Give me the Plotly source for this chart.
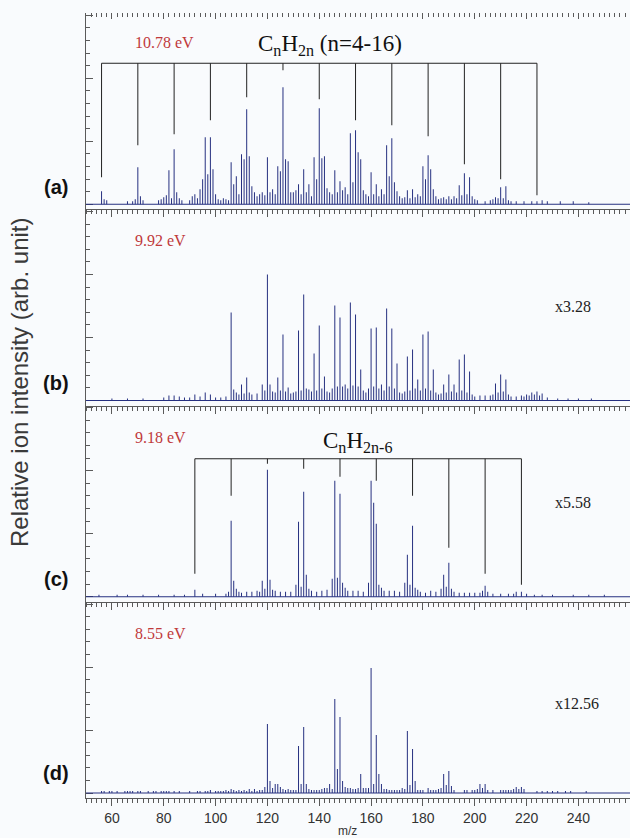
import plotly.graph_objects as go

# ---------------- data (m/z, relative intensity) ----------------
# panel (a) 10.78 eV
a_mz = [56, 57, 68, 70, 71, 80, 81, 82, 84, 85, 92, 94, 95, 96, 97, 98, 99, 100,
        106, 107, 108, 110, 111, 112, 113, 114, 120, 122, 124, 125, 126, 127, 128, 130,
        132, 134, 136, 138, 139, 140, 141, 142, 146, 148, 150, 152, 153, 154, 155, 156,
        160, 162, 164, 166, 167, 168, 169, 170, 174, 176, 178, 180, 181, 182, 183, 184,
        188, 190, 192, 194, 196, 198, 200, 208, 210, 212, 214, 224, 226]
a_int = [13, 5, 3, 37, 8, 7, 9, 34, 55, 12, 10, 15, 25, 67, 30, 67, 35, 10,
         42, 20, 28, 50, 45, 95, 48, 18, 47, 15, 38, 33, 117, 45, 43, 12,
         20, 35, 20, 47, 25, 96, 46, 48, 34, 23, 17, 71, 22, 74, 52, 45,
         32, 20, 15, 59, 28, 66, 22, 13, 14, 15, 10, 38, 25, 49, 35, 15,
         7, 8, 8, 19, 31, 27, 5, 7, 17, 18, 3, 3, 4]
a_small_mz = [58, 66, 69, 72, 78, 79, 83, 86, 87, 90, 91, 93, 101, 102, 103, 104, 105, 109,
              115, 116, 117, 118, 119, 121, 123, 129, 131, 133, 135, 137, 143, 144, 145, 147,
              149, 151, 157, 158, 159, 161, 163, 165, 171, 172, 173, 175, 177, 179, 185, 186,
              187, 189, 191, 193, 195, 197, 199, 201, 204, 206, 207, 209, 211, 213, 216, 219,
              222, 228, 233, 238, 244]
a_small_int = [4, 3, 5, 4, 4, 5, 6, 6, 4, 4, 8, 6, 5, 4, 6, 5, 4, 10,
               12, 8, 10, 12, 9, 12, 10, 12, 14, 10, 12, 8, 16, 12, 10, 12,
               14, 10, 14, 10, 8, 10, 8, 10, 8, 6, 7, 6, 7, 8, 8, 5,
               6, 5, 5, 6, 9, 10, 8, 4, 3, 4, 5, 6, 6, 4, 3, 3,
               3, 3, 3, 3, 2]

# panel (b) 9.92 eV
b_mz = [82, 84, 92, 96, 98, 106, 107, 110, 112, 118, 120, 121, 124, 126, 128, 132, 134, 136,
        138, 140, 142, 146, 148, 150, 152, 154, 156, 160, 162, 164, 166, 168, 170, 174, 176,
        178, 180, 182, 184, 188, 190, 192, 194, 196, 198, 208, 210, 212, 220, 222, 224, 226]
b_int = [5, 5, 6, 8, 6, 88, 11, 16, 23, 16, 126, 16, 23, 66, 13, 70, 106, 11,
         47, 75, 24, 95, 83, 16, 98, 86, 31, 72, 73, 16, 92, 72, 37, 44, 51,
         21, 66, 69, 31, 16, 26, 16, 41, 46, 29, 17, 26, 21, 6, 8, 9, 7]
b_small_mz = [60, 66, 72, 80, 86, 88, 90, 94, 100, 102, 104, 108, 109, 111, 113, 114, 116, 119,
              122, 123, 125, 127, 129, 130, 131, 133, 135, 137, 139, 141, 143, 144, 145, 147,
              149, 151, 153, 155, 157, 158, 159, 161, 163, 165, 167, 169, 171, 172, 173, 175,
              177, 179, 181, 183, 185, 186, 187, 189, 191, 193, 195, 197, 199, 200, 202, 204,
              206, 207, 209, 211, 213, 214, 216, 218, 219, 221, 223, 225, 228, 232, 236, 240, 245]
b_small_int = [2, 2, 2, 3, 4, 3, 3, 4, 3, 3, 4, 8, 6, 7, 8, 6, 7, 10,
               9, 8, 10, 9, 7, 8, 9, 10, 12, 9, 10, 12, 9, 8, 12, 14,
               14, 12, 15, 14, 10, 8, 12, 14, 12, 10, 14, 12, 8, 7, 9, 10,
               12, 10, 12, 10, 8, 6, 7, 8, 9, 8, 10, 8, 6, 4, 5, 5,
               5, 6, 8, 9, 6, 4, 4, 5, 4, 5, 6, 5, 3, 2, 2, 2, 2]

# panel (c) 9.18 eV
c_mz = [92, 106, 107, 118, 120, 121, 132, 134, 135, 146, 147, 148, 160, 161, 162, 174, 176,
        188, 190, 204, 216, 218]
c_int = [7, 76, 16, 16, 127, 17, 75, 105, 22, 116, 19, 103, 116, 94, 73, 42, 71,
         22, 34, 11, 5, 5]
c_small_mz = [55, 62, 66, 72, 78, 84, 88, 95, 100, 104, 105, 108, 109, 110, 112, 114, 116, 117,
              119, 122, 123, 125, 127, 129, 131, 133, 136, 137, 139, 141, 143, 145, 149, 150,
              151, 153, 155, 157, 159, 163, 164, 165, 167, 169, 171, 173, 175, 177, 178, 179,
              181, 183, 185, 187, 189, 191, 192, 194, 196, 198, 200, 202, 203, 205, 207, 210,
              213, 215, 220, 223, 226, 230, 238, 244, 250]
c_small_int = [2, 2, 2, 2, 2, 2, 2, 3, 3, 3, 5, 8, 5, 4, 5, 5, 6, 5,
               8, 7, 6, 5, 5, 5, 12, 10, 8, 6, 5, 6, 7, 18, 14, 9,
               6, 6, 6, 5, 14, 12, 9, 6, 6, 6, 5, 14, 12, 9, 7, 5,
               4, 6, 5, 8, 10, 8, 5, 4, 4, 4, 4, 4, 6, 5, 3, 3,
               3, 3, 3, 2, 2, 2, 2, 2, 2]

# panel (d) 8.55 eV
d_mz = [120, 121, 123, 124, 132, 134, 135, 144, 146, 147, 148, 149, 156, 160, 161, 162, 163,
        164, 174, 176, 177, 188, 190, 191, 202, 204, 216, 218]
d_int = [69, 12, 9, 9, 47, 66, 9, 9, 94, 24, 76, 12, 19, 125, 9, 58, 19,
         9, 62, 44, 12, 19, 22, 7, 9, 9, 6, 6]
d_small_mz = [56, 57, 59, 60, 62, 65, 66, 67, 68, 70, 71, 74, 76, 77, 79, 80, 81, 82,
              84, 86, 90, 93, 94, 96, 97, 98, 100, 101, 102, 103, 104, 105, 106, 107,
              108, 109, 110, 111, 112, 113, 114, 115, 116, 117, 118, 119, 122, 125, 126, 127,
              128, 129, 130, 131, 133, 136, 137, 138, 139, 140, 141, 142, 143, 145, 150, 151,
              152, 153, 154, 155, 157, 158, 159, 165, 166, 167, 168, 169, 170, 171, 172, 173,
              175, 178, 179, 180, 182, 183, 184, 185, 186, 187, 189, 192, 196, 197, 199, 200,
              201, 203, 205, 207, 210, 211, 212, 213, 214, 215, 217, 219, 224, 226, 228, 230,
              232, 235, 237, 243]
d_small_int = [2, 2, 2, 2, 2, 2, 2, 2, 2, 2, 2, 2, 2, 2, 2, 2, 2, 2,
               2, 2, 2, 2, 2, 2, 2, 3, 2, 2, 2, 2, 3, 2, 4, 3,
               2, 3, 2, 3, 2, 4, 2, 4, 2, 3, 3, 6, 5, 6, 4, 3,
               4, 3, 3, 3, 9, 4, 3, 3, 3, 3, 4, 5, 5, 4, 6, 5,
               5, 4, 4, 5, 5, 5, 5, 4, 4, 3, 3, 3, 3, 3, 5, 4,
               8, 3, 3, 3, 5, 3, 3, 3, 4, 5, 8, 3, 3, 3, 3, 3,
               4, 5, 3, 3, 3, 3, 3, 3, 3, 4, 4, 4, 2, 2, 2, 2,
               2, 2, 2, 2]

# homologous series markers
series_a_mz = [56, 70, 84, 98, 112, 126, 140, 154, 168, 182, 196, 210, 224]   # CnH2n, n=4-16
series_a_end = [27, 59, 70, 84, 107, 134, 105, 84, 79, 68, 40, 25, 9]
series_a_level = 141
series_c_mz = [92, 106, 120, 134, 148, 162, 176, 190, 204, 218]               # CnH2n-6
series_c_end = [23, 101, 133, 128, 120, 116, 101, 49, 23, 12]
series_c_level = 138

x_tick_vals = [60, 80, 100, 120, 140, 160, 180, 200, 220, 240]
energies = ["10.78 eV", "9.92 eV", "9.18 eV", "8.55 eV"]
panel_tags = ["(a)", "(b)", "(c)", "(d)"]
scale_factors = ["", "x3.28", "x5.58", "x12.56"]

# ---------------- figure ----------------
W, H = 630, 838
L, R, T, B = 86, 0, 13, 40
plot_h = H - T - B
def py(p):   # pixel row -> paper y
    return (H - B - p) / plot_h
def px(p):   # pixel column -> paper x
    return (p - L) / (W - L - R)

XR = [50, 259.9]
YR = [-5, 191.25]
SPEC = "rgb(38,48,128)"
AX = "#5a5a5a"

fig = go.Figure()

panels = [
    (a_mz, a_int, a_small_mz, a_small_int),
    (b_mz, b_int, b_small_mz, b_small_int),
    (c_mz, c_int, c_small_mz, c_small_int),
    (d_mz, d_int, d_small_mz, d_small_int),
]
for i, (mz, it, smz, sit) in enumerate(panels):
    k = 4 - i
    xa = "x" if k == 1 else f"x{k}"
    ya = "y" if k == 1 else f"y{k}"
    xs, ys = [], []
    for m, v in list(zip(smz, sit)) + list(zip(mz, it)):
        xs += [m, m, None]
        ys += [0, v, None]
    fig.add_trace(go.Scatter(
        x=xs, y=ys, mode="lines", line=dict(color=SPEC, width=1),
        xaxis=xa, yaxis=ya, showlegend=False, hoverinfo="skip"))
    fig.add_shape(type="line", xref=xa + " domain", yref=ya, x0=0, x1=1, y0=0, y1=0,
                  line=dict(color=SPEC, width=1.2))

def bracket(mzs, ends, level, xa, ya):
    xs = [mzs[0], mzs[-1], None]
    ys = [level, level, None]
    for m, e in zip(mzs, ends):
        xs += [m, m, None]
        ys += [level, e, None]
    fig.add_trace(go.Scatter(x=xs, y=ys, mode="lines",
                             line=dict(color="#222222", width=1),
                             xaxis=xa, yaxis=ya, showlegend=False, hoverinfo="skip"))

bracket(series_a_mz, series_a_end, series_a_level, "x4", "y4")
bracket(series_c_mz, series_c_end, series_c_level, "x2", "y2")

fig.add_trace(go.Scatter(x=[None], y=[None], xaxis="x5", yaxis="y4",
                         showlegend=False, hoverinfo="skip"))

xcommon = dict(range=XR, autorange=False, automargin=False, showgrid=False, zeroline=False,
               showline=True, linecolor=AX, linewidth=1, ticks="outside", ticklen=7,
               tickwidth=1, tickcolor=AX, tickmode="array", tickvals=x_tick_vals,
               minor=dict(dtick=2, tick0=0, ticklen=4, ticks="outside", tickcolor=AX, tickwidth=1))
ycommon = dict(range=YR, autorange=False, automargin=False, showgrid=False, zeroline=False,
               showline=True, linecolor=AX, linewidth=1, ticks="inside", ticklen=7, tickwidth=1,
               tickcolor=AX, tick0=0, dtick=63, showticklabels=False,
               minor=dict(dtick=12.6, tick0=0, ticklen=4, ticks="inside", tickcolor=AX, tickwidth=1))

layout = dict(
    width=W, height=H,
    margin=dict(l=L, r=R, t=T, b=B, autoexpand=False),
    paper_bgcolor="#f9fbfd", plot_bgcolor="#f9fbfd",
    font=dict(family="Liberation Sans, Arial", color="#222222"),
    xaxis=dict(**xcommon, anchor="y", showticklabels=True,
               tickfont=dict(size=14, family="Liberation Sans, Arial", color="#333333")),
    xaxis2=dict(**xcommon, anchor="y2", matches="x", showticklabels=False),
    xaxis3=dict(**xcommon, anchor="y3", matches="x", showticklabels=False),
    xaxis4=dict(**xcommon, anchor="y4", matches="x", showticklabels=False),
    xaxis5=dict(range=XR, autorange=False, automargin=False, overlaying="x4", anchor="y4",
                side="top", showgrid=False, zeroline=False, showline=False, ticks="inside",
                ticklen=6, tickwidth=1, tickcolor=AX, tickmode="array", tickvals=x_tick_vals,
                showticklabels=False,
                minor=dict(dtick=2, tick0=0, ticklen=4, ticks="inside", tickcolor=AX, tickwidth=1)),
    yaxis=dict(**ycommon, domain=[0, 0.25], anchor="x"),
    yaxis2=dict(**ycommon, domain=[0.25, 0.5], anchor="x2"),
    yaxis3=dict(**ycommon, domain=[0.5, 0.75], anchor="x3"),
    yaxis4=dict(**ycommon, domain=[0.75, 1.0], anchor="x4"),
)
fig.update_layout(**layout)

ann = []
ann.append(dict(text="Relative ion intensity (arb. unit)", x=px(19), y=py(383),
                xref="paper", yref="paper", textangle=-90, showarrow=False,
                font=dict(size=24, family="Liberation Sans, Arial", color="#3a3a3a"),
                xanchor="center", yanchor="middle"))
tag_rows = [187, 383, 579, 773]
energy_rows = [43, 240, 437, 633]
factor_rows = [None, 306, 502, 703]
for i in range(4):
    ann.append(dict(text=f"<b>{panel_tags[i]}</b>", x=px(56), y=py(tag_rows[i]),
                    xref="paper", yref="paper", showarrow=False,
                    font=dict(size=20, family="Liberation Sans, Arial", color="#111111"),
                    xanchor="center", yanchor="middle"))
    ann.append(dict(text=energies[i], x=px(133), y=py(energy_rows[i]),
                    xref="paper", yref="paper", showarrow=False,
                    font=dict(size=16, family="Liberation Serif, Times New Roman", color="#c0393b"),
                    xanchor="left", yanchor="middle"))
    if scale_factors[i]:
        ann.append(dict(text=scale_factors[i], x=px(553), y=py(factor_rows[i]),
                        xref="paper", yref="paper", showarrow=False,
                        font=dict(size=16, family="Liberation Serif, Times New Roman", color="#222222"),
                        xanchor="left", yanchor="middle"))
ann.append(dict(text="C<sub>n</sub>H<sub>2n</sub> (n=4-16)", x=px(256), y=py(45),
                xref="paper", yref="paper", showarrow=False,
                font=dict(size=23, family="Liberation Serif, Times New Roman", color="#111111"),
                xanchor="left", yanchor="middle"))
ann.append(dict(text="C<sub>n</sub>H<sub>2n-6</sub>", x=px(321), y=py(442),
                xref="paper", yref="paper", showarrow=False,
                font=dict(size=23, family="Liberation Serif, Times New Roman", color="#111111"),
                xanchor="left", yanchor="middle"))
ann.append(dict(text="m/z", x=px(347), y=py(831), xref="paper", yref="paper",
                showarrow=False, font=dict(size=12, family="Liberation Sans, Arial", color="#333333"),
                xanchor="center", yanchor="middle"))
fig.update_layout(annotations=ann)

fig.write_html("out.html", config={"displayModeBar": False},
               post_script="document.body.style.margin='0px';document.body.style.padding='0px';"
                           "document.body.style.overflow='hidden';")
